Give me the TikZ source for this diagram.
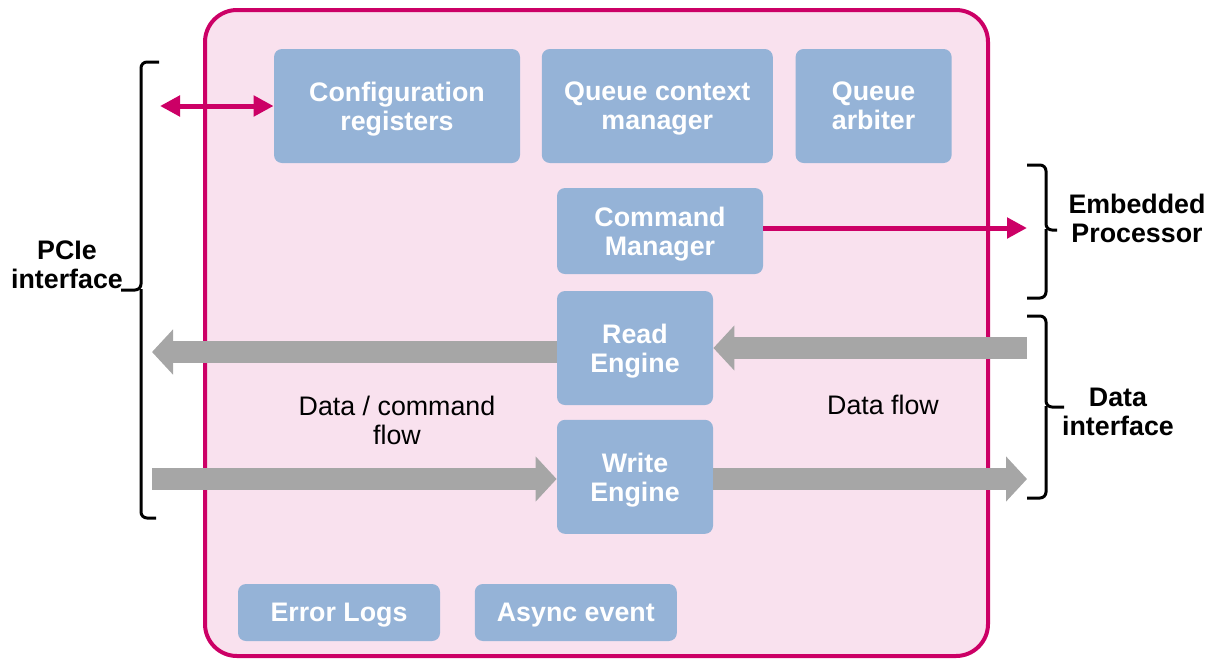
\documentclass[tikz,border=0pt]{standalone}
\usepackage{fontspec}
\setmainfont{Liberation Sans}
\usepackage{tikz}
\usetikzlibrary{positioning, arrows.meta}

\definecolor{accent}{RGB}{204,0,102}
\definecolor{framepink}{RGB}{249,225,238}
\definecolor{boxblue}{RGB}{149,179,215}
\definecolor{flowgray}{RGB}{166,166,166}

\tikzset{
  block/.style={fill=boxblue, rounded corners=4pt, text=white, align=center,
    font=\fontsize{13.4}{14.5}\selectfont\bfseries, inner sep=0pt, text depth=0pt},
  label/.style={align=center, font=\fontsize{13.4}{14.5}\selectfont},
  fatflow/.style={draw=flowgray, line width=11pt, -{Triangle[width=22pt,length=10.5pt]}},
  ctrl/.style={draw=accent, line width=2.5pt, -{Triangle[width=10pt,length=10pt]}},
  bracket/.style={draw=black, line width=1.5pt, rounded corners=3pt}
}

\begin{document}
\begin{tikzpicture}[x=0.5pt, y=-0.5pt]
\useasboundingbox (0,0) rectangle (1219,659);

% controller frame
\draw[draw=accent, fill=framepink, line width=2pt, rounded corners=16pt] (205,10) rectangle (988,656);

% blocks
\node (config) [block, minimum width=123pt, minimum height=57pt] at (397,106) {Configuration\\registers};
\node (queuectx) [block, minimum width=115.5pt, minimum height=57pt, right=10.5pt of config] {Queue context\\manager};
\node (arbiter) [block, minimum width=78pt, minimum height=57pt, right=11pt of queuectx] {Queue\\arbiter};
\node (cmdmgr) [block, minimum width=103pt, minimum height=43pt] at (660,231) {Command\\Manager};
\node (read) [block, minimum width=78pt, minimum height=57pt] at (635,348) {Read\\Engine};
\node (write) [block, minimum width=78pt, minimum height=57pt, below=7pt of read] {Write\\Engine};
\node (errlogs) [block, minimum width=101pt, minimum height=28.5pt] at (339,612.5) {Error Logs};
\node (async) [block, minimum width=101pt, minimum height=28.5pt, right=17pt of errlogs] {Async event};

% interface ends
\coordinate (pcieport) at (160,106);
\coordinate (embport) at (1027,228);
\coordinate (pcieout) at (152,352);
\coordinate (datain) at (1027,348);
\coordinate (pciein) at (152,479);
\coordinate (dataout) at (1027,479);

% flows
\draw[fatflow] (read.west |- pcieout) -- (pcieout);
\draw[fatflow] (datain) -- (read.east |- datain);
\draw[fatflow] (pciein) -- (write.west |- pciein);
\draw[fatflow] (write.east |- dataout) -- (dataout);
\draw[ctrl, {Triangle[width=10pt,length=10pt]}-{Triangle[width=10pt,length=10pt]}] (pcieport) -- (config.west);
\draw[ctrl] (cmdmgr.east |- embport) -- (embport);

% braces
\draw[bracket] (159,62) -| (141,290) -- (121,290);
\draw[bracket] (141,289) |- (156,518);
\draw[bracket] (1027,165) -| (1046,230) -- (1057,230);
\draw[bracket] (1046,229) |- (1027,298);
\draw[bracket] (1027,316) -| (1046,407) -- (1064,407);
\draw[bracket] (1046,406) |- (1027,498);

% labels
\node (pcie) [label, font=\fontsize{13.4}{14.5}\selectfont\bfseries] at (67,265) {PCIe\\interface};
\node (embedded) [label, font=\fontsize{13.4}{14.5}\selectfont\bfseries] at (1137,218) {Embedded\\Processor};
\node (dataif) [label, font=\fontsize{13.4}{14.5}\selectfont\bfseries] at (1118,412) {Data\\interface};
\node (cmdflow) [label] at (397,420) {Data / command\\flow};
\node (dataflow) [label] at (883,405) {Data flow};
\end{tikzpicture}
\end{document}
